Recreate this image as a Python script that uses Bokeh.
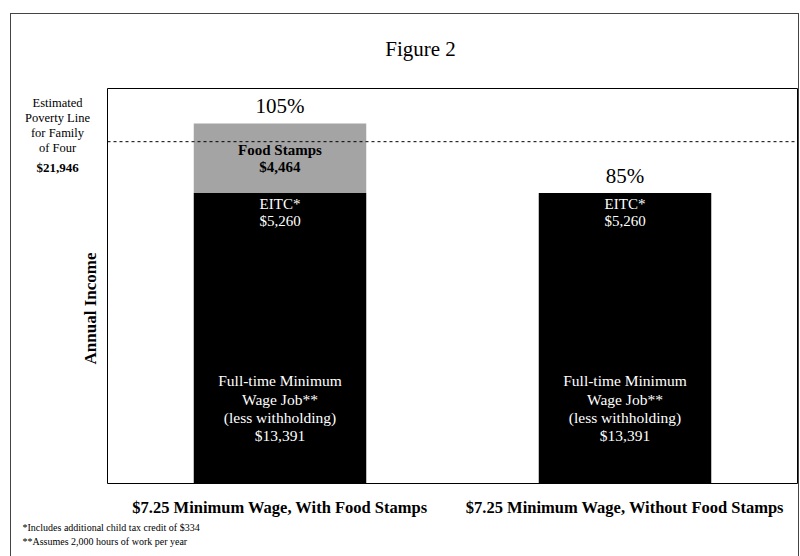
from bokeh.plotting import figure
from bokeh.models import ColumnDataSource, Range1d
from bokeh.embed import file_html
from bokeh.resources import INLINE

# ---- data -------------------------------------------------------------
categories = ["$7.25 Minimum Wage, With Food Stamps",
              "$7.25 Minimum Wage, Without Food Stamps"]
wage = [13391, 13391]          # full-time minimum wage job, less withholding
eitc = [5260, 5260]            # EITC incl. additional child tax credit
food_stamps = [4464, 0]
poverty_line = 21946           # estimated poverty line, family of four

FONT = "Liberation Serif"

# ---- geometry -----------------------------------------------------------
# The whole canvas is the plotting frame; the chart box spans x 0..2
# (one unit per category) and y 0..Y_TOP.
W, H = 789, 543                 # canvas size
ORG_X, ORG_Y = 11, 14           # canvas origin on the page
BOX_L, BOX_B, BOX_T = 107, 483, 88   # chart box edges on the page
PX_PER_X = 345.0
Y_TOP = 25360
k = Y_TOP / (BOX_B - BOX_T)     # dollars per pixel

x0 = -(BOX_L - ORG_X) / PX_PER_X
x1 = x0 + W / PX_PER_X
y1 = (BOX_B - ORG_Y) * k
y0 = y1 - H * k


def at(px, py):
    """Page pixel position -> data coordinates."""
    return x0 + (px - ORG_X) / PX_PER_X, y1 - (py - ORG_Y) * k


xc = [i + 0.5 for i in range(len(categories))]
totals = [w + e + f for w, e, f in zip(wage, eitc, food_stamps)]
pct = [f"{round(100 * t / poverty_line)}%" for t in totals]

src = ColumnDataSource(dict(x=xc, cat=categories, wage=wage, eitc=eitc,
                            food=food_stamps, total=totals, pct=pct))

p = figure(x_range=Range1d(x0, x1), y_range=Range1d(y0, y1),
           width=W, height=H, min_border=0,
           x_axis_location=None, y_axis_location=None,
           toolbar_location=None, output_backend="svg")
p.margin = (13, 0, 0, 10)
p.styles = {"border-top": "1px solid #444", "border-left": "1px solid #444",
            "border-right": "1px solid #444"}
p.grid.visible = False
p.outline_line_color = None

# stacked income components
p.vbar_stack(["wage", "eitc", "food"], x="x", width=0.5, source=src,
             color=["black", "black", "#a4a4a4"], line_color=None)

# chart box
p.quad(left=0, right=len(categories), bottom=0, top=Y_TOP,
       fill_color=None, line_color="black", line_width=1)

# poverty line
p.segment(x0=0, x1=len(categories), y0=poverty_line, y1=poverty_line,
          line_color="black", line_width=1, line_dash="3 3")

# percent of poverty line above each bar
p.text(x="x", y="total", text="pct", source=src, y_offset=-17,
       text_align="center", text_baseline="middle",
       text_font=FONT, text_font_size="21px", text_color="black")

# category names under the box
p.text(x="x", y=0, text="cat", source=src, y_offset=24,
       text_align="center", text_baseline="middle",
       text_font=FONT, text_font_size="16.5px", text_font_style="bold",
       text_color="black")

# segment labels
fs_src = ColumnDataSource(dict(
    x=[x for x, f in zip(xc, food_stamps) if f > 0],
    y=[w + e + f / 2 for w, e, f in zip(wage, eitc, food_stamps) if f > 0],
    txt=[f"Food Stamps\n${f:,}" for f in food_stamps if f > 0]))
p.text(x="x", y="y", text="txt", source=fs_src,
       text_align="center", text_baseline="middle", text_line_height=1.05,
       text_font=FONT, text_font_size="15px", text_font_style="bold",
       text_color="black")

eitc_src = ColumnDataSource(dict(
    x=xc, y=[w + e for w, e in zip(wage, eitc)],
    txt=[f"EITC*\n${e:,}" for e in eitc]))
p.text(x="x", y="y", text="txt", source=eitc_src, y_offset=3,
       text_align="center", text_baseline="top", text_line_height=1.05,
       text_font=FONT, text_font_size="15px", text_color="white")

wage_src = ColumnDataSource(dict(
    x=xc, y=[w / 2 for w in wage],
    txt=[f"Full-time Minimum\nWage Job**\n(less withholding)\n${w:,}" for w in wage]))
p.text(x="x", y="y", text="txt", source=wage_src, y_offset=29,
       text_align="center", text_baseline="middle", text_line_height=1.07,
       text_font=FONT, text_font_size="15.5px", text_color="white")


# captions around the chart box
def caption(px, py, text, size, style="normal", align="center", angle=0.0,
            line_height=1.2):
    x, y = at(px, py)
    p.text(x=[x], y=[y], text=[text], angle=angle,
           text_align=align, text_baseline="middle",
           text_font=FONT, text_font_size=size, text_font_style=style,
           text_color="black", text_line_height=line_height)


caption(420, 48, "Figure 2", "21px")
caption(57, 125, "Estimated\nPoverty Line\nfor Family\nof Four", "12.5px",
        line_height=1.08)
caption(57, 167, f"${poverty_line:,}", "13px", style="bold")
caption(90, 308, "Annual Income", "17px", style="bold", angle=1.5708)
caption(22, 527, "*Includes additional child tax credit of $334", "10px",
        align="left")
caption(22, 541, "**Assumes 2,000 hours of work per year", "10px",
        align="left")

open("out.html", "w").write(file_html(p, INLINE))
